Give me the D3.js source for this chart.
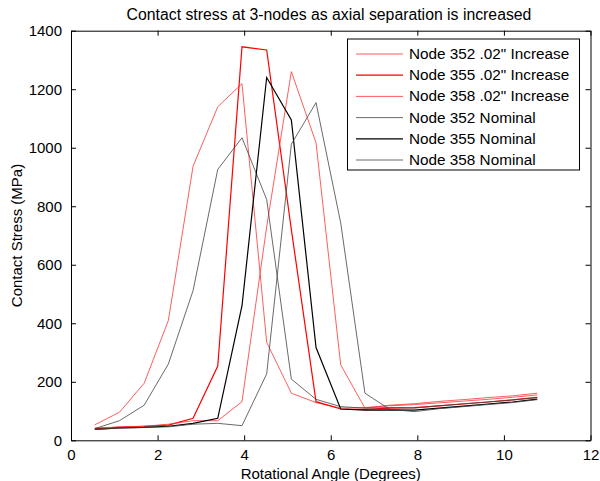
<!DOCTYPE html>
<html><head><meta charset="utf-8">
<script src="https://cdn.jsdelivr.net/npm/d3@7/dist/d3.min.js"></script>
<style>
html,body{margin:0;padding:0;background:#fff;}
svg{display:block;font-family:"Liberation Sans",Arial,sans-serif;}
</style></head>
<body>
<svg id="chart" width="600" height="481"></svg>
<script>
const angles = [0.55,1.12,1.69,2.25,2.82,3.39,3.95,4.52,5.09,5.66,6.23,6.79,7.36,7.93,8.50,9.06,9.63,10.20,10.77];
const node352Inc = [53,96,195,410,937,1140,1219,335,161,129,110,112,118,122,128,134,140,147,155];
const node355Inc = [40,45,48,52,75,254,1345,1334,720,132,107,106,110,112,118,124,131,138,147];
const node358Inc = [42,45,48,55,67,67,132,730,1260,1017,258,110,120,125,133,139,146,152,161];
const node352Nom = [40,67,120,261,512,926,1034,823,209,140,115,110,112,110,118,125,131,138,146];
const node355Nom = [37,42,44,48,58,75,460,1240,1095,317,107,103,104,103,110,117,124,131,141];
const node358Nom = [37,42,44,46,55,58,50,227,1012,1154,743,161,106,98,108,115,122,129,139];
const seriesNames = ['Node 352 .02" Increase','Node 355 .02" Increase','Node 358 .02" Increase','Node 352 Nominal','Node 355 Nominal','Node 358 Nominal'];
const seriesValues = [node352Inc,node355Inc,node358Inc,node352Nom,node355Nom,node358Nom];
const seriesColors = ["#ff3333","#ff0000","#ff3333","#444444","#000000","#444444"];
const seriesWidths = [0.8,1.2,0.8,0.8,1.2,0.8];
const xTicks = [0,2,4,6,8,10,12];
const yTicks = [0,200,400,600,800,1000,1200,1400];
const titleText = "Contact stress at 3-nodes as axial separation is increased";
const xLabel = "Rotational Angle (Degrees)";
const yLabel = "Contact Stress (MPa)";

const svg = d3.select("#chart");
const L=71, R=590.5, T=30.7, B=440.3;
const x = d3.scaleLinear().domain([0,12]).range([L,R]);
const y = d3.scaleLinear().domain([0,1400]).range([B,T]);
const fs = 15;

// axes
const xb = svg.append("g").attr("transform",`translate(0,${B})`)
  .call(d3.axisBottom(x).tickValues(xTicks).tickFormat(d3.format("d")).tickSizeInner(-5).tickSizeOuter(0).tickPadding(9));
const xt = svg.append("g").attr("transform",`translate(0,${T})`)
  .call(d3.axisTop(x).tickValues(xTicks).tickSizeInner(-5).tickSizeOuter(0).tickFormat(""));
const yl = svg.append("g").attr("transform",`translate(${L},0)`)
  .call(d3.axisLeft(y).tickValues(yTicks).tickFormat(d3.format("d")).tickSizeInner(-5).tickSizeOuter(0).tickPadding(9));
const yr = svg.append("g").attr("transform",`translate(${R},0)`)
  .call(d3.axisRight(y).tickValues(yTicks).tickSizeInner(-5).tickSizeOuter(0).tickFormat(""));
[xb,xt,yl,yr].forEach(g=>{
  g.select(".domain").attr("stroke","#000").attr("stroke-width",1);
  g.selectAll(".tick line").attr("stroke","#000");
  g.selectAll(".tick text").attr("fill","#000").style("font-size",fs+"px").style("font-family","Liberation Sans, Arial, sans-serif");
});

// lines
const line = d3.line().x((d,i)=>x(angles[i])).y(d=>y(d));
const plot = svg.append("g");
seriesValues.forEach((vals,k)=>{
  plot.append("path").datum(vals).attr("d",line)
    .attr("fill","none").attr("stroke",seriesColors[k]).attr("stroke-width",seriesWidths[k]);
});

// title and labels
svg.append("text").attr("x",329).attr("y",19.5).attr("text-anchor","middle")
  .style("font-size","15.8px").text(titleText);
svg.append("text").attr("x",(L+R)/2).attr("y",479).attr("text-anchor","middle")
  .style("font-size",fs+"px").text(xLabel);
svg.append("text").attr("transform",`translate(22,${(T+B)/2}) rotate(-90)`).attr("text-anchor","middle")
  .style("font-size",fs+"px").text(yLabel);

// legend
const lg = svg.append("g");
lg.append("rect").attr("x",347.5).attr("y",39).attr("width",232).attr("height",131)
  .attr("fill","#fff").attr("stroke","#000").attr("stroke-width",1);
seriesNames.forEach((n,k)=>{
  const cy = 54 + k*21.2;
  lg.append("line").attr("x1",356).attr("x2",403).attr("y1",cy).attr("y2",cy)
    .attr("stroke",seriesColors[k]).attr("stroke-width",seriesWidths[k]);
  lg.append("text").attr("x",409).attr("y",cy+5).style("font-size","15.3px").text(n);
});
</script>
</body></html>
